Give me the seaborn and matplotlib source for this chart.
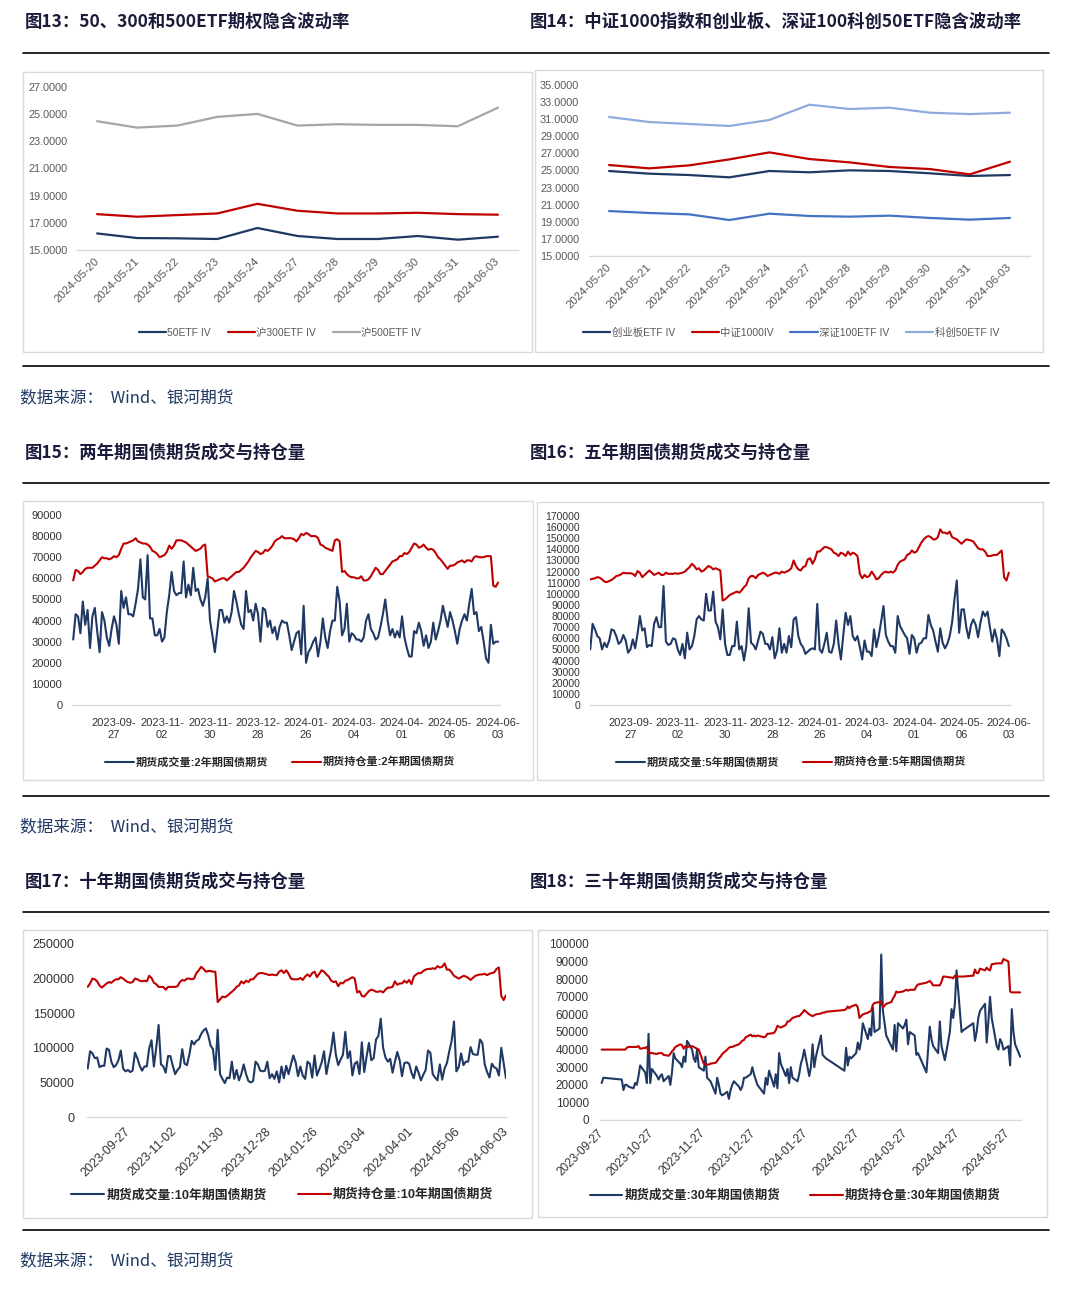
import numpy as np
import pandas as pd
import matplotlib
matplotlib.use("Agg")
import matplotlib.pyplot as plt
from matplotlib.patches import Rectangle
from matplotlib.lines import Line2D
from matplotlib.ticker import FuncFormatter
import seaborn as sns

sns.set_theme(style="white")
plt.rcParams['font.family'] = ['Liberation Sans', 'Noto Sans CJK SC', 'DejaVu Sans']
plt.rcParams['axes.unicode_minus'] = False

# ------------------------- DATI -------------------------

# fig 13 / 14: implied volatility, 11 trading days
iv_dates = ["2024-05-20", "2024-05-21", "2024-05-22", "2024-05-23", "2024-05-24", "2024-05-27",
            "2024-05-28", "2024-05-29", "2024-05-30", "2024-05-31", "2024-06-03"]
iv_50etf = [16.22, 15.88, 15.86, 15.81, 16.62, 16.03, 15.81, 15.81, 16.03, 15.76, 15.98]
iv_300etf = [17.64, 17.45, 17.57, 17.69, 18.40, 17.89, 17.69, 17.69, 17.74, 17.64, 17.60]
iv_500etf = [24.48, 24.01, 24.16, 24.80, 25.02, 24.16, 24.26, 24.21, 24.21, 24.11, 25.48]
iv_cyb = [24.94, 24.63, 24.47, 24.20, 24.94, 24.79, 25.02, 24.94, 24.67, 24.36, 24.47]
iv_zz1000 = [25.64, 25.25, 25.60, 26.30, 27.12, 26.34, 25.95, 25.41, 25.17, 24.55, 26.03]
iv_sz100 = [20.26, 20.03, 19.87, 19.21, 19.95, 19.68, 19.60, 19.72, 19.45, 19.25, 19.45]
iv_kc50 = [31.26, 30.67, 30.44, 30.21, 30.91, 32.70, 32.19, 32.35, 31.76, 31.60, 31.76]

# exchange holidays used to build the trading calendar
holidays = ["2023-09-29", "2023-10-02", "2023-10-03", "2023-10-04", "2023-10-05", "2023-10-06",
            "2024-01-01", "2024-02-09", "2024-02-12", "2024-02-13", "2024-02-14", "2024-02-15",
            "2024-02-16", "2024-04-04", "2024-04-05", "2024-05-01", "2024-05-02", "2024-05-03"]

tick_dates = ["2023-09-27", "2023-11-02", "2023-11-30", "2023-12-28", "2024-01-26",
              "2024-03-04", "2024-04-01", "2024-05-06", "2024-06-03"]
tick_dates_30y = ["2023-09-27", "2023-10-27", "2023-11-27", "2023-12-27", "2024-01-27",
                  "2024-02-27", "2024-03-27", "2024-04-27", "2024-05-27"]

# daily values in thousands of lots, 2023-09-04 .. 2024-06-03 (one row = 20 trading days)
vol_2y = [31, 43, 42, 34, 49, 38, 45, 27, 42, 46, 35, 25, 44, 40, 32, 28, 36,
          42, 38, 29, 54, 46, 51, 43, 43, 42, 48, 55, 69, 51, 50, 71, 41, 41, 33, 33, 36,
          30, 32, 44, 52, 63, 54, 52, 53, 53, 68, 51, 57, 52, 65, 54, 55, 50, 47, 51, 60,
          40, 33, 25, 35, 45, 45, 39, 42, 39, 44, 54, 49, 43, 38, 36, 54, 44, 45, 40, 48,
          43, 30, 46, 45, 37, 40, 34, 37, 31, 37, 40, 39, 39, 33, 26, 30, 34, 35, 24, 47,
          20, 25, 27, 30, 32, 23, 30, 41, 32, 27, 35, 40, 40, 56, 49, 33, 36, 48, 30, 34,
          33, 31, 31, 30, 32, 40, 43, 36, 34, 31, 32, 37, 43, 50, 40, 33, 36, 32, 35, 32,
          42, 32, 27, 23, 23, 35, 34, 39, 35, 28, 33, 27, 30, 39, 31, 35, 40, 47, 42, 37,
          44, 40, 35, 29, 36, 40, 43, 40, 48, 55, 43, 44, 35, 37, 30, 22, 20, 38, 29, 30,
          30]
oi_2y = [59, 64, 63.5, 62, 63, 64.5, 65, 65, 65, 66, 67, 68.5, 70, 69.5, 69.5, 69, 69.5,
         70.5, 70, 71, 74, 76.5, 76.5, 77, 77.5, 78, 79, 77.5, 77, 76.5, 76.5, 76, 75, 73, 72.5, 71.5, 70,
         70.5, 71, 72.5, 75.5, 74, 75.5, 78, 78, 78, 77.5, 77, 76, 75, 74, 73, 73.5, 74, 75.5, 76, 61,
         60.5, 60, 58.5, 59, 59.5, 60, 60, 59, 60, 61, 62, 63, 63, 64, 65, 66.5, 68, 70, 71.5, 73,
         72.5, 71.5, 72, 73.5, 73, 74, 75.5, 77.5, 78.5, 79, 80, 79, 79, 79, 79, 78.5, 77.5, 79, 81, 80.5,
         81.5, 81, 80, 80, 80, 79, 76, 75.5, 74.5, 74, 73.5, 73, 78, 78.5, 77.5, 63, 63.5, 62, 61, 60.5,
         60.5, 60, 60, 61, 59, 59, 59.5, 61, 63, 65, 64, 62, 62, 63.5, 65, 66.5, 68, 68.5, 69, 70.5,
         70.5, 72, 71.5, 72.5, 74.5, 76.5, 76, 74.5, 75, 76, 74.5, 73.5, 74, 73.5, 72, 70, 69, 67.5, 66, 64.5,
         66, 66, 66.5, 67.5, 68, 68.5, 67.5, 68.5, 68.5, 68, 70, 70.5, 70, 70, 70, 70.5, 70.5, 70.5, 56.5, 56,
         58]
vol_5y = [50, 73, 68, 62, 60, 50, 56, 52, 58, 68, 67, 62, 55, 57, 63, 58, 47,
          50, 59, 51, 64, 80, 67, 69, 52, 54, 53, 73, 79, 70, 70, 107, 57, 54, 55, 60, 59,
          50, 45, 55, 42, 65, 50, 53, 62, 77, 80, 77, 76, 100, 85, 85, 102, 75, 70, 59, 86,
          55, 45, 45, 53, 53, 75, 50, 53, 40, 53, 87, 56, 54, 50, 58, 66, 64, 55, 55, 50,
          61, 42, 49, 69, 47, 55, 47, 62, 52, 77, 79, 62, 55, 52, 46, 48, 50, 51, 50, 91,
          50, 47, 55, 65, 48, 47, 55, 76, 55, 41, 63, 83, 72, 80, 62, 58, 62, 52, 41, 58,
          48, 48, 44, 68, 52, 62, 75, 89, 63, 57, 53, 53, 47, 80, 71, 67, 63, 60, 46, 63,
          60, 47, 55, 56, 60, 60, 81, 72, 67, 57, 48, 69, 56, 51, 55, 62, 74, 95, 112, 65,
          86, 86, 70, 60, 72, 77, 72, 61, 74, 84, 80, 84, 70, 57, 68, 59, 44, 68, 65, 60,
          53]
oi_5y = [113, 113.5, 114, 115, 114.5, 113, 111, 110.5, 111.5, 112.5, 114, 116, 116.5, 117.5, 119, 118.5, 118.5,
         118.5, 118, 116, 120.5, 119, 115, 117, 119, 121, 119, 117, 118, 119, 117, 117, 119, 118, 118, 118, 118.5,
         118, 118.5, 119, 120, 122, 124, 127, 125, 122, 123, 120, 121, 123, 125, 124, 122, 123, 122, 121, 94,
         95, 97, 99, 100, 101, 102, 101, 103, 106, 108, 114, 116, 116, 114, 117, 118, 119, 118, 116, 117,
         118, 119, 119, 118, 120, 119, 120, 121, 123, 130, 125, 122, 121, 124, 125, 131, 132, 127, 131, 138,
         138, 140, 142, 142, 141, 140, 137, 136, 134, 137, 136, 134, 138, 135, 137, 136, 134, 118, 114, 117,
         115, 116, 120, 117, 113, 114, 117, 119, 120, 119, 120, 119, 121, 126, 129, 130, 131, 135, 136, 139,
         137, 138, 142, 146, 149, 151, 152, 151, 149, 149, 151, 158, 155, 155, 154, 156, 151, 150, 149, 147,
         145, 147, 149, 148.5, 148, 147, 144, 141, 140, 140, 138, 134, 134, 134.5, 135, 135, 137, 139, 115, 112,
         119]
vol_10y = [70, 95, 92, 85, 86, 72, 74, 74, 99, 97, 80, 72, 75, 82, 96, 70, 66,
           68, 65, 67, 93, 85, 74, 67, 73, 73, 99, 111, 73, 100, 133, 76, 73, 64, 88, 88, 74,
           62, 68, 72, 98, 77, 75, 90, 110, 105, 110, 112, 120, 125, 128, 118, 103, 98, 68, 126, 62,
           55, 49, 57, 56, 80, 55, 68, 53, 62, 76, 62, 52, 50, 52, 80, 76, 67, 66, 67, 80,
           56, 62, 55, 66, 50, 73, 56, 74, 62, 76, 89, 79, 59, 73, 60, 55, 80, 77, 57, 89,
           60, 69, 79, 95, 62, 80, 97, 122, 90, 75, 83, 90, 123, 85, 95, 60, 77, 80, 62, 108,
           65, 87, 107, 82, 85, 112, 117, 142, 100, 86, 80, 84, 64, 80, 94, 82, 59, 78, 79, 77,
           64, 56, 73, 64, 53, 61, 68, 96, 93, 62, 57, 53, 76, 54, 70, 78, 95, 110, 138, 66,
           72, 92, 75, 80, 80, 101, 91, 90, 90, 112, 107, 76, 65, 57, 77, 72, 70, 60, 100, 78,
           56]
oi_10y = [188, 193, 200, 199, 196, 190, 187, 190, 193, 195, 194, 197, 199, 199, 202, 200, 197,
          195, 194, 195, 200, 199, 197, 196, 197, 196, 204, 201, 194, 192, 188, 188, 188, 184, 188, 188, 188,
          188, 189, 195, 198, 197, 200, 200, 199, 200, 208, 212, 217, 214, 210, 211, 211, 210, 210, 166, 170,
          174, 173, 175, 178, 181, 184, 188, 190, 196, 193, 197, 195, 199, 199, 203, 207, 208, 208, 207, 206,
          205, 206, 205, 205, 210, 212, 208, 212, 207, 200, 199, 199, 199, 201, 198, 203, 206, 203, 208, 210,
          202, 207, 212, 210, 206, 203, 197, 195, 196, 189, 194, 193, 197, 198, 200, 202, 200, 180, 182, 175,
          174, 178, 182, 184, 183, 181, 181, 182, 180, 184, 187, 187, 188, 196, 191, 193, 193, 197, 194, 198,
          192, 203, 206, 208, 208, 211, 213, 214, 214, 215, 214, 218, 216, 217, 222, 213, 213, 209, 204, 202,
          200, 202, 204, 203, 201, 198, 201, 204, 205, 206, 206, 207, 205, 207, 208, 209, 214, 216, 175, 169,
          176]

# 30y: 2023-09-27 .. 2024-06-03, one row per month
vol_30y = [21, 24,
           23, 17, 20, 20, 19, 18, 21, 20, 25, 31, 27, 21, 49, 21, 29, 25, 23,
           25, 26, 22, 25, 20, 27, 38, 35, 32, 30, 36, 33, 45, 40, 35, 33, 40, 30, 28, 36, 24, 23,
           22, 15, 24, 20, 15, 14, 16, 12, 17, 20, 22, 19, 17, 19, 24, 24, 26, 30, 26, 23, 20,
           15, 24, 20, 28, 19, 26, 18, 38, 32, 25, 29, 21, 30, 24, 22, 26, 32, 35, 40, 25, 30, 43,
           30, 36, 48, 37, 36, 35, 28, 41, 31, 36, 35, 38, 44, 40, 45,
           55, 46, 52, 48, 64, 50, 52, 94, 62, 55, 48, 42, 40, 54, 39, 55, 52, 54, 57, 43, 50,
           48, 37, 38, 27, 40, 53, 46, 42, 38, 56, 42, 38, 34, 50, 63, 58, 66, 85, 50, 51,
           55, 45, 50, 58, 62, 66, 44, 56, 70, 58, 42, 40, 46, 44, 40, 42, 31, 63, 50, 43,
           36]
oi_30y = [40, 40,
          40, 40, 40, 41, 41.5, 41.5, 41.5, 41.5, 42, 40.5, 41, 41.5, 38.5, 38, 38, 37.5, 38,
          38, 38, 37, 36.5, 37.5, 39, 40, 41.5, 43, 42.5, 40.5, 42, 41.5, 42, 41.5, 41, 40.5, 40, 32, 31.5, 31.5, 31.5,
          32, 32.5, 33.5, 35, 36, 37.5, 40, 41, 41.5, 41.5, 42, 43, 44, 45, 45.5, 47, 48.5, 47.5, 48, 47.5, 48,
          47, 47.5, 49, 49, 49.5, 51, 53.5, 53, 52.5, 54, 56, 56, 57, 58, 59, 59, 60, 61, 62.5, 60, 59.5, 59,
          59.5, 60, 60.5, 61, 61, 61.5, 62.5, 63, 64.5, 63.5, 64.5, 65.5, 64, 58, 59,
          60, 61, 61.5, 62, 65.5, 66.5, 67, 67.5, 64, 65, 66, 67, 69, 70.5, 73, 72.5, 73, 73.5, 74, 73.5, 74,
          74, 76, 77, 78, 78.5, 79, 78, 76.5, 76.5, 76.5, 78.5, 81.5, 81.5, 81, 81, 80.5, 82, 81.5, 81.5, 81.5,
          82, 85.5, 83.5, 83.5, 86, 85, 86.5, 85.5, 85, 88.5, 89, 89, 89, 89, 91.5, 90, 73, 72.5, 72.5, 72.5,
          72.5]

# ------------------------- LAYOUT -------------------------

W, H = 1080, 1296
NAVY = "#203864"
RED = "#C00000"
GREY = "#A6A6A6"
MIDBLUE = "#4472C4"
LIGHTBLUE = "#8FAADC"
TITLE_C = "#1a1a3a"
SRC_C = "#1F3864"

fig = plt.figure(figsize=(W / 100, H / 100), dpi=100)
fig.patch.set_facecolor("white")


def add_ax(x0, y0, x1, y1):
    return fig.add_axes([x0 / W, 1 - y1 / H, (x1 - x0) / W, (y1 - y0) / H])


def box(x0, y0, x1, y1):
    fig.add_artist(Rectangle((x0 / W, 1 - y1 / H), (x1 - x0) / W, (y1 - y0) / H,
                             transform=fig.transFigure, fill=False, ec="#D9D9D9", lw=1.0))


def hline(y):
    fig.add_artist(Line2D([23 / W, 1049 / W], [1 - y / H, 1 - y / H],
                          transform=fig.transFigure, color="black", lw=1.2))


def title(x, y, s):
    fig.text(x / W, 1 - y / H, s, ha="left", va="center", fontsize=12.5, fontweight="bold",
             color=TITLE_C, family=["Noto Sans CJK SC", "DejaVu Sans"])


def source(y):
    fig.text(20 / W, 1 - y / H, "数据来源：  Wind、银河期货", ha="left", va="center", fontsize=12,
             color=SRC_C, family=["Noto Sans CJK SC", "DejaVu Sans"])


def style_ax(ax, fs, color, pad):
    for s in ["top", "right", "left"]:
        ax.spines[s].set_visible(False)
    ax.spines["bottom"].set_color("#D9D9D9")
    ax.spines["bottom"].set_linewidth(1.0)
    ax.tick_params(axis="both", length=0, labelsize=fs, labelcolor=color, pad=pad)
    ax.grid(False)
    ax.set_xlabel("")
    ax.set_ylabel("")
    ax.set_facecolor("none")


def legend(ax, cx, cy, ncol, fs, spacing, bold, color):
    prop = {"size": fs, "weight": "bold" if bold else "normal",
            "family": ["Liberation Sans", "Noto Sans CJK SC"]}
    ax.legend(loc="center", bbox_to_anchor=(cx / W, 1 - cy / H), bbox_transform=fig.transFigure,
              ncol=ncol, frameon=False, prop=prop, handlelength=2.6, handletextpad=0.15,
              columnspacing=spacing, labelcolor=color)


# trading calendar
trade_days = pd.bdate_range("2023-09-04", "2024-06-03")
trade_days = trade_days[~trade_days.isin(pd.to_datetime(holidays))]
idx = np.arange(len(trade_days))
tick_idx = [int(np.where(trade_days == pd.Timestamp(d))[0][0]) for d in tick_dates]
tick_two_line = [d[:8] + "\n" + d[8:] for d in tick_dates]

# header texts and rules
title(25, 22, "图13：50、300和500ETF期权隐含波动率")
title(530, 22, "图14：中证1000指数和创业板、深证100科创50ETF隐含波动率")
hline(53)
hline(366)
source(398)
title(25, 453, "图15：两年期国债期货成交与持仓量")
title(530, 453, "图16：五年期国债期货成交与持仓量")
hline(483)
hline(796)
source(827)
title(25, 882, "图17：十年期国债期货成交与持仓量")
title(530, 882, "图18：三十年期国债期货成交与持仓量")
hline(912)
hline(1230)
source(1261)

box(23, 72, 532, 352)
box(535, 70, 1043, 352)
box(23, 501, 533, 780)
box(537, 502, 1043, 780)
box(23, 930, 532, 1218)
box(538, 930, 1047, 1217)

# ------------------------- FIG 13 -------------------------
ax = add_ax(77, 87, 518, 250)
xc = np.arange(len(iv_dates))
sns.lineplot(x=xc, y=iv_50etf, ax=ax, color=NAVY, lw=1.6, label="50ETF IV")
sns.lineplot(x=xc, y=iv_300etf, ax=ax, color=RED, lw=1.6, label="沪300ETF IV")
sns.lineplot(x=xc, y=iv_500etf, ax=ax, color=GREY, lw=1.6, label="沪500ETF IV")
ax.set_ylim(15, 27)
ax.set_xlim(-0.5, len(iv_dates) - 0.5)
ax.set_yticks(np.arange(15, 27.1, 2))
ax.yaxis.set_major_formatter(FuncFormatter(lambda v, p: f"{v:.4f}"))
ax.set_xticks(xc)
ax.set_xticklabels(iv_dates, rotation=45, ha="right", va="center", rotation_mode="anchor")
style_ax(ax, 7.8, "#595959", 7)
ax.tick_params(axis="x", labelsize=8.2)
legend(ax, 280, 333, 3, 7.5, 1.6, False, "#595959")

# ------------------------- FIG 14 -------------------------
ax = add_ax(589, 85, 1030, 256)
sns.lineplot(x=xc, y=iv_cyb, ax=ax, color=NAVY, lw=1.6, label="创业板ETF IV")
sns.lineplot(x=xc, y=iv_zz1000, ax=ax, color=RED, lw=1.6, label="中证1000IV")
sns.lineplot(x=xc, y=iv_sz100, ax=ax, color=MIDBLUE, lw=1.6, label="深证100ETF IV")
sns.lineplot(x=xc, y=iv_kc50, ax=ax, color=LIGHTBLUE, lw=1.6, label="科创50ETF IV")
ax.set_ylim(15, 35)
ax.set_xlim(-0.5, len(iv_dates) - 0.5)
ax.set_yticks(np.arange(15, 35.1, 2))
ax.yaxis.set_major_formatter(FuncFormatter(lambda v, p: f"{v:.4f}"))
ax.set_xticks(xc)
ax.set_xticklabels(iv_dates, rotation=45, ha="right", va="center", rotation_mode="anchor")
style_ax(ax, 7.8, "#595959", 7)
ax.tick_params(axis="x", labelsize=8.2)
legend(ax, 791, 333, 4, 7.5, 1.6, False, "#595959")

thousands = FuncFormatter(lambda v, p: f"{int(round(v * 1000))}")

# ------------------------- FIG 15 -------------------------
ax = add_ax(72, 515, 500, 705)
sns.lineplot(x=idx, y=vol_2y, ax=ax, color=NAVY, lw=1.5, label="期货成交量:2年期国债期货")
sns.lineplot(x=idx, y=oi_2y, ax=ax, color=RED, lw=1.5, label="期货持仓量:2年期国债期货")
ax.set_ylim(0, 90)
ax.set_xlim(-0.5, len(idx) - 0.2)
ax.set_yticks(np.arange(0, 91, 10))
ax.yaxis.set_major_formatter(thousands)
ax.set_xticks(tick_idx)
ax.set_xticklabels(tick_two_line, linespacing=1.3)
style_ax(ax, 8, "#333333", 7)
ax.tick_params(axis="x", pad=9)
legend(ax, 280, 762, 2, 8, 2.2, True, "#262626")

# ------------------------- FIG 16 -------------------------
ax = add_ax(590, 516, 1010, 705)
sns.lineplot(x=idx, y=vol_5y, ax=ax, color=NAVY, lw=1.5, label="期货成交量:5年期国债期货")
sns.lineplot(x=idx, y=oi_5y, ax=ax, color=RED, lw=1.5, label="期货持仓量:5年期国债期货")
ax.set_ylim(0, 170)
ax.set_xlim(-0.1, len(idx) - 0.5)
ax.set_yticks(np.arange(0, 171, 10))
ax.yaxis.set_major_formatter(thousands)
ax.set_xticks(tick_idx)
ax.set_xticklabels(tick_two_line, linespacing=1.3)
style_ax(ax, 7.5, "#333333", 7)
ax.tick_params(axis="x", labelsize=8, pad=9)
legend(ax, 791, 762, 2, 8, 2.2, True, "#262626")

# ------------------------- FIG 17 -------------------------
ax = add_ax(87, 944, 506, 1117)
sns.lineplot(x=idx, y=vol_10y, ax=ax, color=NAVY, lw=1.5, label="期货成交量:10年期国债期货")
sns.lineplot(x=idx, y=oi_10y, ax=ax, color=RED, lw=1.5, label="期货持仓量:10年期国债期货")
ax.set_ylim(0, 250)
ax.set_xlim(-0.3, len(idx) - 1)
ax.set_yticks(np.arange(0, 251, 50))
ax.yaxis.set_major_formatter(thousands)
ax.set_xticks(tick_idx)
ax.set_xticklabels(tick_dates, rotation=45, ha="right", va="center", rotation_mode="anchor")
style_ax(ax, 9, "#333333", 9)
legend(ax, 282, 1195, 2, 9.3, 2.4, True, "#262626")

# ------------------------- FIG 18 -------------------------
ax = add_ax(600, 944, 1021, 1120)
days_30y = trade_days[trade_days >= pd.Timestamp("2023-09-27")]
df30 = pd.DataFrame({"date": days_30y, "vol": vol_30y, "oi": oi_30y})
sns.lineplot(data=df30, x="date", y="vol", ax=ax, color=NAVY, lw=1.5, label="期货成交量:30年期国债期货")
sns.lineplot(data=df30, x="date", y="oi", ax=ax, color=RED, lw=1.5, label="期货持仓量:30年期国债期货")
ax.set_ylim(0, 100)
ax.set_xlim(pd.Timestamp("2023-09-26"), pd.Timestamp("2024-06-03 12:00"))
ax.set_yticks(np.arange(0, 101, 10))
ax.yaxis.set_major_formatter(thousands)
ax.set_xticks(pd.to_datetime(tick_dates_30y))
ax.set_xticklabels(tick_dates_30y, rotation=45, ha="right", va="center", rotation_mode="anchor")
style_ax(ax, 8.5, "#333333", 8)
legend(ax, 795, 1196, 2, 9, 2.4, True, "#262626")

fig.savefig("out.png", dpi=100, facecolor="white")
